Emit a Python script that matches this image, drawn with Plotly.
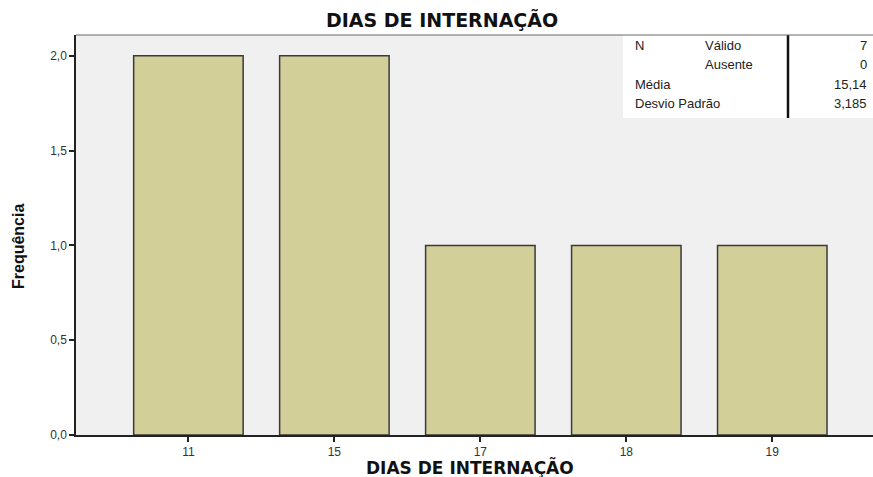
import plotly.graph_objects as go

categories = ["11", "15", "17", "18", "19"]
frequencies = [2, 2, 1, 1, 1]
y_ticks = [0, 0.5, 1.0, 1.5, 2.0]
y_tick_labels = ["0,0", "0,5", "1,0", "1,5", "2,0"]
stats_labels = [("N", "Válido"), ("", "Ausente"), ("Média", ""), ("Desvio Padrão", "")]
stats_values = ["7", "0", "15,14", "3,185"]

W, H = 873, 477
L, R, T, B = 76, 0, 35, 42
pw, ph = W - L - R, H - T - B

def px(x):  # page pixel -> paper
    return (x - L) / pw

def py(y):
    return (T + ph - y) / ph

TITLE_FONT = "DejaVu Sans, Liberation Sans, Arial, sans-serif"
BODY_FONT = "Liberation Sans, Arial, sans-serif"

fig = go.Figure()
fig.add_trace(go.Bar(
    x=categories, y=frequencies,
    marker=dict(color="#D3CF98", line=dict(color="#3a3a3a", width=1.5)),
    width=0.75,
))

fig.update_layout(
    width=W, height=H,
    margin=dict(l=L, r=R, t=T, b=B, pad=0),
    paper_bgcolor="white", plot_bgcolor="#F0F0F0",
    showlegend=False,
    font=dict(family=BODY_FONT, color="#222"),
)
fig.update_xaxes(
    type="category", range=[-0.77, 4.69],
    showline=True, linecolor="#222", linewidth=1.5,
    ticks="outside", ticklen=5, tickcolor="#222", tickwidth=1.5,
    tickfont=dict(size=12, color="#333"),
    showgrid=False, zeroline=False,
)
fig.update_yaxes(
    range=[0, 2.11],
    tickvals=y_ticks, ticktext=y_tick_labels,
    showline=True, linecolor="#222", linewidth=1.5,
    ticks="outside", ticklen=5, tickcolor="#222", tickwidth=1.5,
    tickfont=dict(size=12, color="#333"),
    showgrid=False, zeroline=False,
)

# titles
fig.add_annotation(text="<b>DIAS DE INTERNAÇÃO</b>", xref="paper", yref="paper",
                   x=px(442), y=py(20), xanchor="center", yanchor="middle",
                   showarrow=False, font=dict(size=19, color="#111", family=TITLE_FONT))
fig.add_annotation(text="<b>DIAS DE INTERNAÇÃO</b>", xref="paper", yref="paper",
                   x=px(470), y=py(467), xanchor="center", yanchor="middle",
                   showarrow=False, font=dict(size=17, color="#111", family=TITLE_FONT))
fig.add_annotation(text="<b>Frequência</b>", xref="paper", yref="paper",
                   x=px(18), y=py(247), xanchor="center", yanchor="middle",
                   textangle=-90, showarrow=False,
                   font=dict(size=16, color="#111",
                             family="Liberation Sans Narrow, Arial Narrow, Liberation Sans, sans-serif"))

# stats table
fig.add_shape(type="rect", xref="paper", yref="paper",
              x0=px(623), x1=1.0, y0=py(118), y1=1.0,
              fillcolor="white", line=dict(width=0), layer="above")
fig.add_shape(type="line", xref="paper", yref="paper",
              x0=px(788), x1=px(788), y0=py(118), y1=1.0,
              line=dict(color="#111", width=2.5), layer="above")
fig.add_shape(type="line", xref="paper", yref="paper",
              x0=0, x1=1, y0=1, y1=1,
              line=dict(color="#666", width=1), layer="above")

row_y = [45, 64, 84, 103]
for (a, b), v, ry in zip(stats_labels, stats_values, row_y):
    if a:
        fig.add_annotation(text=a, xref="paper", yref="paper", x=px(633), y=py(ry),
                           xanchor="left", yanchor="middle", showarrow=False,
                           font=dict(size=13, color="#222"))
    if b:
        fig.add_annotation(text=b, xref="paper", yref="paper", x=px(703), y=py(ry),
                           xanchor="left", yanchor="middle", showarrow=False,
                           font=dict(size=13, color="#222"))
    fig.add_annotation(text=v, xref="paper", yref="paper", x=px(869), y=py(ry),
                       xanchor="right", yanchor="middle", showarrow=False,
                       font=dict(size=13, color="#222"))

fig.write_html(
    "out.html",
    config={"displayModeBar": False},
    post_script="document.body.style.margin='0';document.body.style.overflow='hidden';",
)
